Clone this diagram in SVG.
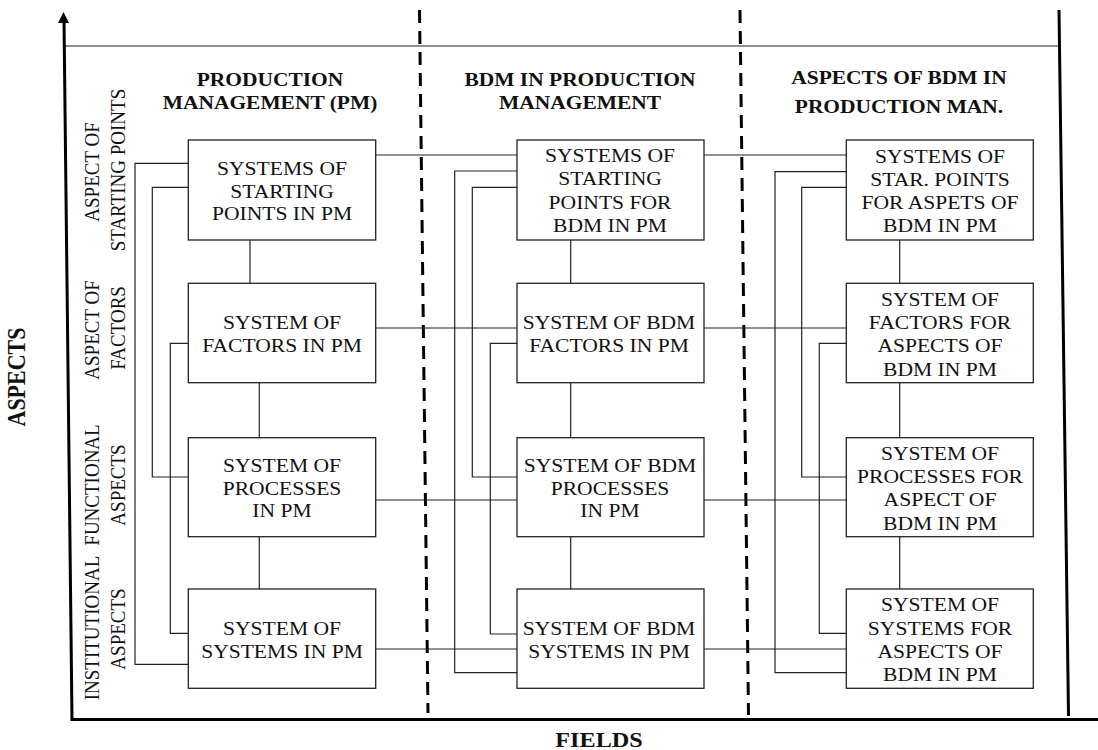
<svg xmlns="http://www.w3.org/2000/svg" width="1098" height="750" viewBox="0 0 1098 750">
<style>
.box{fill:#fff;stroke:#222;stroke-width:1.3}
.ln{fill:none;stroke:#222;stroke-width:1.2}
.axis{fill:none;stroke:#000;stroke-width:3}
.dash{fill:none;stroke:#000;stroke-width:3;stroke-dasharray:13 8}
.bt{font-family:"Liberation Serif","Times New Roman",serif;font-size:19.6px;fill:#111;text-anchor:middle}
.hd{font-family:"Liberation Serif","Times New Roman",serif;font-size:19.5px;font-weight:bold;fill:#111;text-anchor:middle}
.rl{font-family:"Liberation Serif","Times New Roman",serif;font-size:19px;fill:#111;text-anchor:middle}
.ax{font-family:"Liberation Serif","Times New Roman",serif;font-size:22px;font-weight:bold;fill:#111;text-anchor:middle}
</style>
<rect width="1098" height="750" fill="#fff"/>
<g id="frame">
<line class="ln" x1="65" y1="46" x2="1059" y2="46"/>
<line class="axis" x1="72" y1="719" x2="64" y2="20"/>
<polygon points="63.5,12 58,23 69,23" fill="#000"/>
<line class="axis" x1="70.5" y1="719.5" x2="1098" y2="719.5"/>
<line class="axis" x1="1059" y1="10" x2="1068.5" y2="716"/>
<line class="dash" x1="419.5" y1="10" x2="428" y2="713"/>
<line class="dash" x1="740" y1="10" x2="748.5" y2="715"/>
</g>
<g id="axis-labels">
<text class="ax" transform="translate(599,747) scale(1.1,1)">FIELDS</text>
<text class="ax" transform="translate(25,377) scale(1.1,1) rotate(-90)" x="0" y="0">ASPECTS</text>
</g>
<g id="headings">
<text class="hd" transform="translate(270,0) scale(1.1,1)"><tspan x="0" y="86">PRODUCTION</tspan><tspan x="0" y="109">MANAGEMENT (PM)</tspan></text>
<text class="hd" transform="translate(580,0) scale(1.1,1)"><tspan x="0" y="86">BDM IN PRODUCTION</tspan><tspan x="0" y="109">MANAGEMENT</tspan></text>
<text class="hd" transform="translate(899,0) scale(1.1,1)"><tspan x="0" y="84">ASPECTS OF BDM IN</tspan><tspan x="0" y="113">PRODUCTION MAN.</tspan></text>
</g>
<g id="row-labels">
<text class="rl" transform="translate(99,172) scale(1.1,1) rotate(-90)">ASPECT OF</text>
<text class="rl" transform="translate(125,170) scale(1.1,1) rotate(-90)">STARTING POINTS</text>
<text class="rl" transform="translate(99,330) scale(1.1,1) rotate(-90)">ASPECT OF</text>
<text class="rl" transform="translate(125,328) scale(1.1,1) rotate(-90)">FACTORS</text>
<text class="rl" transform="translate(99,485) scale(1.1,1) rotate(-90)">FUNCTIONAL</text>
<text class="rl" transform="translate(125,485) scale(1.1,1) rotate(-90)">ASPECTS</text>
<text class="rl" transform="translate(99,628) scale(1.1,1) rotate(-90)">INSTITUTIONAL</text>
<text class="rl" transform="translate(125,629) scale(1.1,1) rotate(-90)">ASPECTS</text>
</g>
<g id="connectors">
<!-- vertical links -->
<line class="ln" x1="250" y1="240" x2="250" y2="283"/>
<line class="ln" x1="259.3" y1="383" x2="259.3" y2="438"/>
<line class="ln" x1="259.3" y1="537" x2="259.3" y2="589"/>
<line class="ln" x1="570.7" y1="240" x2="570.7" y2="283"/>
<line class="ln" x1="570.7" y1="383" x2="570.7" y2="438"/>
<line class="ln" x1="570.7" y1="537" x2="570.7" y2="589"/>
<line class="ln" x1="899.7" y1="240" x2="899.7" y2="283"/>
<line class="ln" x1="899.7" y1="383" x2="899.7" y2="438"/>
<line class="ln" x1="899.7" y1="537" x2="899.7" y2="589"/>
<!-- horizontal row links -->
<line class="ln" x1="376" y1="155" x2="517" y2="155"/>
<line class="ln" x1="704" y1="155" x2="846" y2="155"/>
<line class="ln" x1="376" y1="328" x2="517" y2="328"/>
<line class="ln" x1="704" y1="328" x2="846" y2="328"/>
<line class="ln" x1="376" y1="500" x2="517" y2="500"/>
<line class="ln" x1="704" y1="500" x2="846" y2="500"/>
<line class="ln" x1="376" y1="649" x2="517" y2="649"/>
<line class="ln" x1="704" y1="649" x2="846" y2="649"/>
<!-- column 1 brackets -->
<polyline class="ln" points="188,163.3 135,163.3 135,664.3 188,664.3"/>
<polyline class="ln" points="188,187.3 152.3,187.3 152.3,477 188,477"/>
<polyline class="ln" points="188,343.3 170.3,343.3 170.3,633.3 188,633.3"/>
<!-- column 2 brackets -->
<polyline class="ln" points="517,171 454.7,171 454.7,672.7 517,672.7"/>
<polyline class="ln" points="517,187.3 472.3,187.3 472.3,477 517,477"/>
<polyline class="ln" points="517,343.3 490.3,343.3 490.3,634 517,634"/>
<!-- column 3 brackets -->
<polyline class="ln" points="846,171.7 775,171.7 775,672.7 846,672.7"/>
<polyline class="ln" points="846,187.3 801.7,187.3 801.7,477 846,477"/>
<polyline class="ln" points="846,343.3 819.3,343.3 819.3,633.3 846,633.3"/>
</g>
<g id="n-c1r1"><rect class="box" x="188.3" y="140" width="187.4" height="100"/>
<text class="bt" transform="translate(282,0) scale(1.1,1)"><tspan x="0" y="175">SYSTEMS OF</tspan><tspan x="0" y="198">STARTING</tspan><tspan x="0" y="220">POINTS IN PM</tspan></text></g>
<g id="n-c1r2"><rect class="box" x="188.3" y="283.3" width="187.4" height="99.4"/>
<text class="bt" transform="translate(282,0) scale(1.1,1)"><tspan x="0" y="329">SYSTEM OF</tspan><tspan x="0" y="352">FACTORS IN PM</tspan></text></g>
<g id="n-c1r3"><rect class="box" x="188.3" y="437.7" width="187.4" height="99"/>
<text class="bt" transform="translate(282,0) scale(1.1,1)"><tspan x="0" y="472">SYSTEM OF</tspan><tspan x="0" y="495">PROCESSES</tspan><tspan x="0" y="517">IN PM</tspan></text></g>
<g id="n-c1r4"><rect class="box" x="188.3" y="589" width="187.4" height="99.3"/>
<text class="bt" transform="translate(282,0) scale(1.1,1)"><tspan x="0" y="635">SYSTEM OF</tspan><tspan x="0" y="658">SYSTEMS IN PM</tspan></text></g>
<g id="n-c2r1"><rect class="box" x="517" y="140" width="187" height="100"/>
<text class="bt" transform="translate(610,0) scale(1.1,1)"><tspan x="0" y="162">SYSTEMS OF</tspan><tspan x="0" y="185">STARTING</tspan><tspan x="0" y="209">POINTS FOR</tspan><tspan x="0" y="232">BDM IN PM</tspan></text></g>
<g id="n-c2r2"><rect class="box" x="517" y="283.3" width="187" height="99.4"/>
<text class="bt" transform="translate(609,0) scale(1.1,1)"><tspan x="0" y="329">SYSTEM OF BDM</tspan><tspan x="0" y="352">FACTORS IN PM</tspan></text></g>
<g id="n-c2r3"><rect class="box" x="517" y="437.7" width="187" height="99"/>
<text class="bt" transform="translate(610,0) scale(1.1,1)"><tspan x="0" y="472">SYSTEM OF BDM</tspan><tspan x="0" y="495">PROCESSES</tspan><tspan x="0" y="517">IN PM</tspan></text></g>
<g id="n-c2r4"><rect class="box" x="517" y="589" width="187" height="99.3"/>
<text class="bt" transform="translate(609,0) scale(1.1,1)"><tspan x="0" y="635">SYSTEM OF BDM</tspan><tspan x="0" y="658">SYSTEMS IN PM</tspan></text></g>
<g id="n-c3r1"><rect class="box" x="846.3" y="140" width="187" height="100"/>
<text class="bt" transform="translate(940,0) scale(1.1,1)"><tspan x="0" y="163">SYSTEMS OF</tspan><tspan x="0" y="186">STAR. POINTS</tspan><tspan x="0" y="209">FOR ASPETS OF</tspan><tspan x="0" y="232">BDM IN PM</tspan></text></g>
<g id="n-c3r2"><rect class="box" x="846.3" y="283.3" width="187" height="99.4"/>
<text class="bt" transform="translate(940,0) scale(1.1,1)"><tspan x="0" y="306">SYSTEM OF</tspan><tspan x="0" y="329">FACTORS FOR</tspan><tspan x="0" y="352">ASPECTS OF</tspan><tspan x="0" y="376">BDM IN PM</tspan></text></g>
<g id="n-c3r3"><rect class="box" x="846.3" y="437.7" width="187" height="99"/>
<text class="bt" transform="translate(940,0) scale(1.1,1)"><tspan x="0" y="460">SYSTEM OF</tspan><tspan x="0" y="483">PROCESSES FOR</tspan><tspan x="0" y="506">ASPECT OF</tspan><tspan x="0" y="530">BDM IN PM</tspan></text></g>
<g id="n-c3r4"><rect class="box" x="846.3" y="589" width="187" height="99.3"/>
<text class="bt" transform="translate(940,0) scale(1.1,1)"><tspan x="0" y="611">SYSTEM OF</tspan><tspan x="0" y="635">SYSTEMS FOR</tspan><tspan x="0" y="658">ASPECTS OF</tspan><tspan x="0" y="681">BDM IN PM</tspan></text></g>
</svg>
